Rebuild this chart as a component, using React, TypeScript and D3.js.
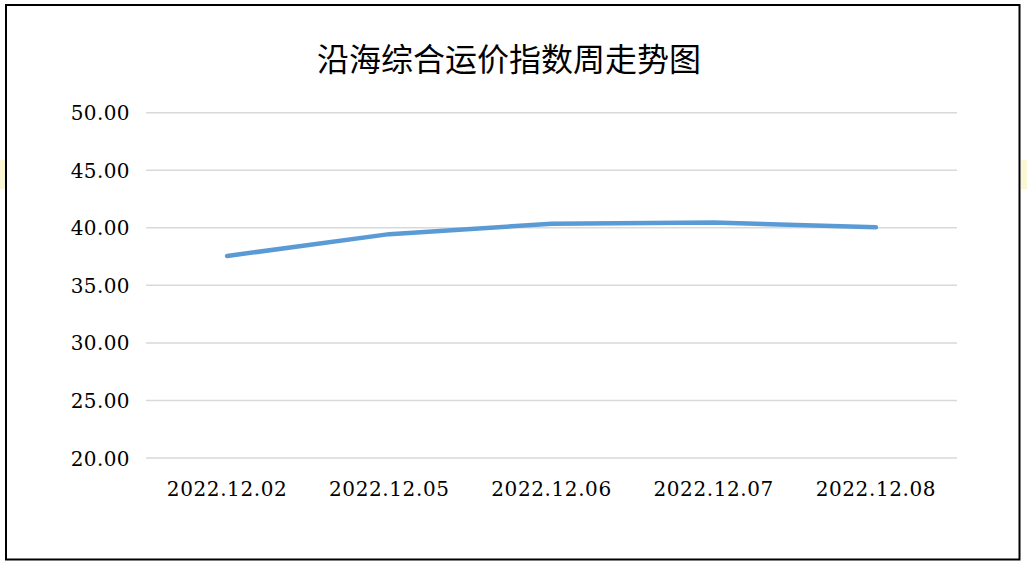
import React from "react";
import * as d3 from "d3";

const categories = ["2022.12.02", "2022.12.05", "2022.12.06", "2022.12.07", "2022.12.08"];
const values = [37.55, 39.45, 40.35, 40.45, 40.05];
const yTicks = [20, 25, 30, 35, 40, 45, 50];
const title = "沿海综合运价指数周走势图";

const W = 1027;
const H = 567;
const plot = { left: 146, right: 957, top: 112.7, bottom: 458 };

export default function App() {
  const x = d3
    .scaleBand<string>()
    .domain(categories)
    .range([plot.left, plot.right])
    .paddingInner(0)
    .paddingOuter(0);
  const y = d3.scaleLinear().domain([20, 50]).range([plot.bottom, plot.top]);
  const line = d3
    .line<number>()
    .x((_, i) => (x(categories[i]) as number) + x.bandwidth() / 2)
    .y((d) => y(d));

  const numFont = "'DejaVu Serif', 'Liberation Serif', serif";

  return (
    <svg
      width={W}
      height={H}
      style={{ position: "absolute", left: 0, top: 0, background: "#fff" }}
    >
      <rect x={0} y={160} width={5} height={29} fill="#fcf7d3" />
      <rect x={1021} y={160} width={6} height={29} fill="#fcf7d3" />
      <rect x={6} y={5} width={1013.5} height={554.5} fill="#fff" stroke="#000" strokeWidth={2} />
      <text
        x={509}
        y={71}
        textAnchor="middle"
        fontFamily="'Noto Sans CJK SC', sans-serif"
        fontSize={32}
        fill="#000"
      >
        {title}
      </text>
      {yTicks.map((t) => (
        <g key={t}>
          <line
            x1={plot.left}
            x2={plot.right}
            y1={y(t)}
            y2={y(t)}
            stroke="#d9d9d9"
            strokeWidth={1.5}
          />
          <text
            x={130}
            y={y(t) + 7.5}
            textAnchor="end"
            fontFamily={numFont}
            fontSize={20}
            letterSpacing={0.4}
            fill="#000"
          >
            {t.toFixed(2)}
          </text>
        </g>
      ))}
      {categories.map((c) => (
        <text
          key={c}
          x={(x(c) as number) + x.bandwidth() / 2}
          y={496}
          textAnchor="middle"
          fontFamily={numFont}
          fontSize={20}
          letterSpacing={0.6}
          fill="#000"
        >
          {c}
        </text>
      ))}
      <path
        d={line(values) || ""}
        fill="none"
        stroke="#5b9bd5"
        strokeWidth={4.5}
        strokeLinecap="round"
        strokeLinejoin="round"
      />
    </svg>
  );
}
